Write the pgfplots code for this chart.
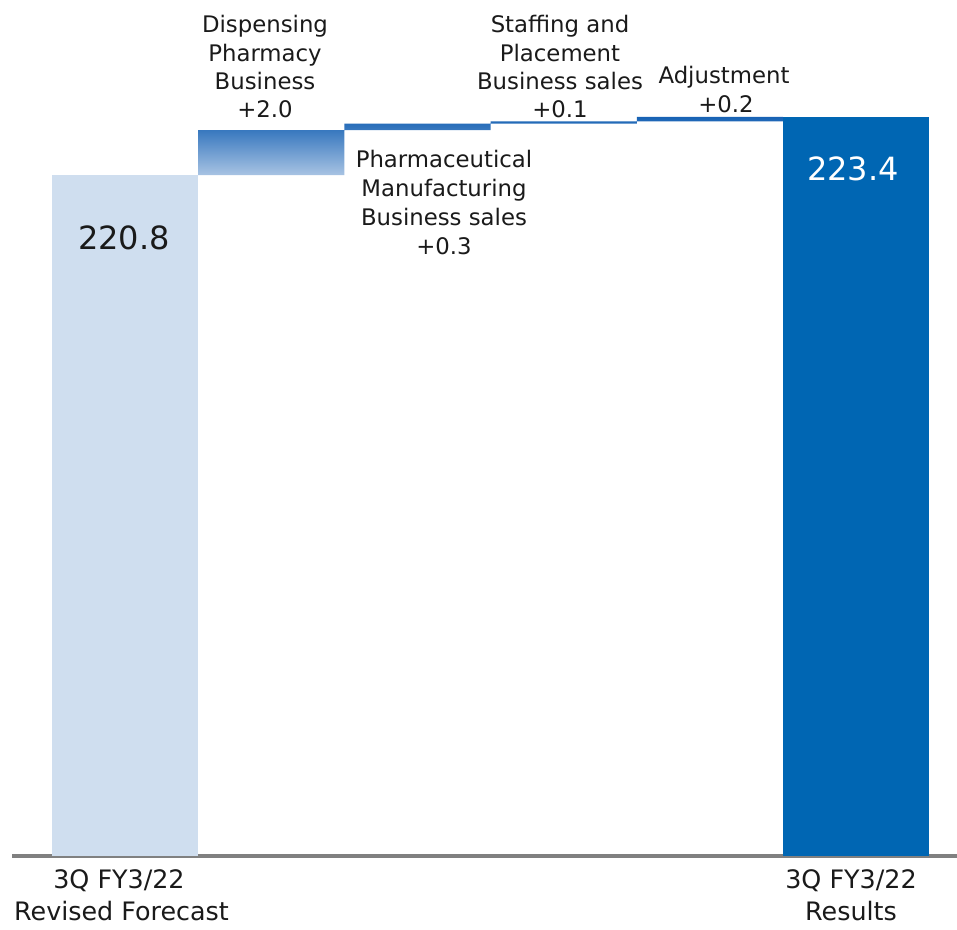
\documentclass[border=0pt]{standalone}
\usepackage{fontspec}
\setmainfont{DejaVu Sans}
\usepackage{pgfplots}
\pgfplotsset{compat=1.18}

\definecolor{forecast}{HTML}{CFDEEF}
\definecolor{results}{HTML}{0066B3}
\definecolor{steptop}{HTML}{1762B4}
\definecolor{stepbot}{HTML}{A8C3E3}
\definecolor{axisgray}{HTML}{808080}
\definecolor{ink}{HTML}{1A1A1A}

\begin{document}
\begin{tikzpicture}[x=0.5pt,y=0.5pt]
\useasboundingbox (0,0) rectangle (957,930);

% shared geometry of the two overlaid axes
\pgfplotsset{
  frame/.style={
    at={(6pt,37pt)}, anchor=south west,
    scale only axis, width=472.5pt, height=428pt,
    xmin=-0.773, xmax=5.69, ymin=190.43, ymax=228.61,
    bar width=1,
  },
}

% start and end totals
\begin{axis}[frame,
  ybar,
  axis x line*=bottom, axis y line=none,
  every outer x axis line/.append style={-},
  x axis line style={draw=axisgray, line width=1.6pt, -},
  xtick=\empty, ytick=\empty,
]
\addplot[ybar, bar shift=0pt, fill=forecast, draw=none] coordinates {(0,220.8)};
\addplot[ybar, bar shift=0pt, fill=results, draw=none] coordinates {(5,223.4)};
\end{axis}

% floating increments
\begin{axis}[frame, ybar stacked, hide axis]
\addplot[draw=none, fill=none] coordinates {(1,220.8) (2,222.8) (3,223.1) (4,223.2)};
\addplot[draw=none, top color=steptop, bottom color=stepbot]
  coordinates {(1,2.0) (2,0.3) (3,0.1) (4,0.2)};
\end{axis}

\tikzset{
  lbl/.style={anchor=base, inner sep=0pt, text=ink, font=\fontsize{11.4}{14}\selectfont},
  cat/.style={anchor=base, inner sep=0pt, text=ink, font=\fontsize{12.7}{15}\selectfont},
  big/.style={anchor=base, inner sep=0pt, font=\fontsize{16}{19}\selectfont},
}

% segment labels
\node[lbl] at (265,897) {Dispensing};
\node[lbl] at (265,868) {Pharmacy};
\node[lbl] at (265,840) {Business};
\node[lbl] at (265,812) {+2.0};

\node[lbl] at (444,762) {Pharmaceutical};
\node[lbl] at (444,733) {Manufacturing};
\node[lbl] at (444,704) {Business sales};
\node[lbl] at (444,675) {+0.3};

\node[lbl] at (560,897) {Staffing and};
\node[lbl] at (560,868) {Placement};
\node[lbl] at (560,840) {Business sales};
\node[lbl] at (560,812) {+0.1};

\node[lbl] at (724,846) {Adjustment};
\node[lbl] at (726,817.5) {+0.2};

% totals
\node[big, text=ink] at (124,680) {220.8};
\node[big, text=white] at (853,749) {223.4};

% category names
\node[cat] at (119,41) {3Q FY3/22};
\node[cat] at (121.5,9) {Revised Forecast};
\node[cat] at (851,41) {3Q FY3/22};
\node[cat] at (851,9) {Results};
\end{tikzpicture}
\end{document}
